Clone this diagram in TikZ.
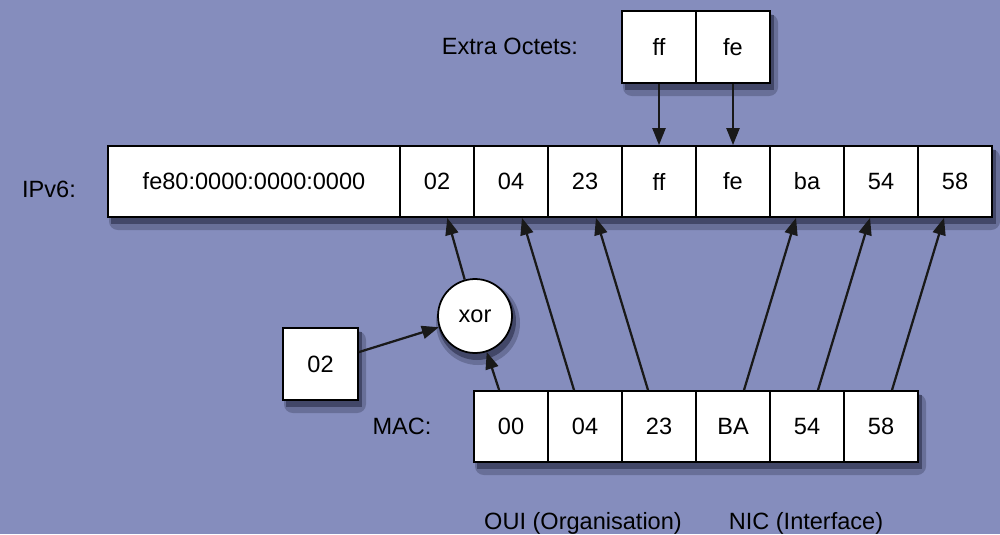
\documentclass[tikz,border=0pt]{standalone}
\usepackage{fontspec}
\setmainfont{Liberation Sans}
\usetikzlibrary{arrows.meta}
\definecolor{bgblue}{RGB}{133,141,189}
\definecolor{shadowsoft}{RGB}{104,111,152}
\definecolor{shadowdark}{RGB}{66,71,104}

\begin{document}
\begin{tikzpicture}[x=0.02cm,y=-0.02cm,font=\fontsize{13.4}{16}\selectfont,
  cell/.style={draw,fill=white,line width=0.035cm,minimum width=1.48cm,minimum height=1.42cm,inner sep=0pt},
  arr/.style={-{Triangle[length=0.34cm,width=0.26cm]},line width=0.045cm,draw=black!90},
  lbl/.style={anchor=base}]
\fill[bgblue] (0,0) rectangle (1000,534);
\useasboundingbox (0,0) rectangle (1000,534);
% shadows
\path[fill=shadowsoft,rounded corners=5] (109,149) rectangle (1000,230);
\path[fill=shadowsoft,rounded corners=5] (623,14) rectangle (778,96);
\path[fill=shadowsoft,rounded corners=5] (475,394) rectangle (926,475);
\path[fill=shadowsoft,rounded corners=5] (284,331) rectangle (366,413);
\path[fill=shadowsoft] (478,323) circle (42);
\path[fill=shadowdark] (111,150) rectangle (996,224);
\path[fill=shadowdark] (625,15) rectangle (774,90);
\path[fill=shadowdark] (477,395) rectangle (922,469);
\path[fill=shadowdark] (286,332) rectangle (362,407);
\path[fill=shadowdark] (477,321) circle (39);
% IPv6 address
\node at (254,181.5)[cell,minimum width=5.84cm] (I0) {fe80:0000:0000:0000};
\node at (437,181.5)[cell] (I02) {02};
\node at (511,181.5)[cell] (I04) {04};
\node at (585,181.5)[cell] (I23) {23};
\node at (659,181.5)[cell] (Iff) {ff};
\node at (733,181.5)[cell] (Ife) {fe};
\node at (807,181.5)[cell] (Iba) {ba};
\node at (881,181.5)[cell] (I54) {54};
\node at (955,181.5)[cell] (I58) {58};
% extra octets
\node at (659,47)[cell,minimum height=1.44cm] (Eff) {ff};
\node at (733,47)[cell,minimum height=1.44cm] (Efe) {fe};
% MAC address
\node at (511,426.5)[cell] (M00) {00};
\node at (585,426.5)[cell] (M04) {04};
\node at (659,426.5)[cell] (M23) {23};
\node at (733,426.5)[cell] (MBA) {BA};
\node at (807,426.5)[cell] (M54) {54};
\node at (881,426.5)[cell] (M58) {58};
% xor with 02
\node at (320.5,364)[cell,minimum width=1.5cm,minimum height=1.44cm] (K02) {02};
\node at (475,316)[cell,circle,minimum size=1.48cm] (X) {xor};
% labels
\node[lbl] at (510,54) (LE) {Extra Octets:};
\node[lbl] at (49,197) (LI) {IPv6:};
\node[lbl] at (402,434) (LM) {MAC:};
\node[lbl] at (583,529) (LO) {OUI (Organisation)};
\node[lbl] at (806,529) (LN) {NIC (Interface)};
\draw[arr] (Eff) -- (Iff);
\draw[arr] (Efe) -- (Ife);
\draw[arr] (K02) -- (X);
\draw[arr] (M00) -- (X);
\draw[arr] (X) -- (I02);
\draw[arr] (M04) -- (I04);
\draw[arr] (M23) -- (I23);
\draw[arr] (MBA) -- (Iba);
\draw[arr] (M54) -- (I54);
\draw[arr] (M58) -- (I58);
\end{tikzpicture}
\end{document}
